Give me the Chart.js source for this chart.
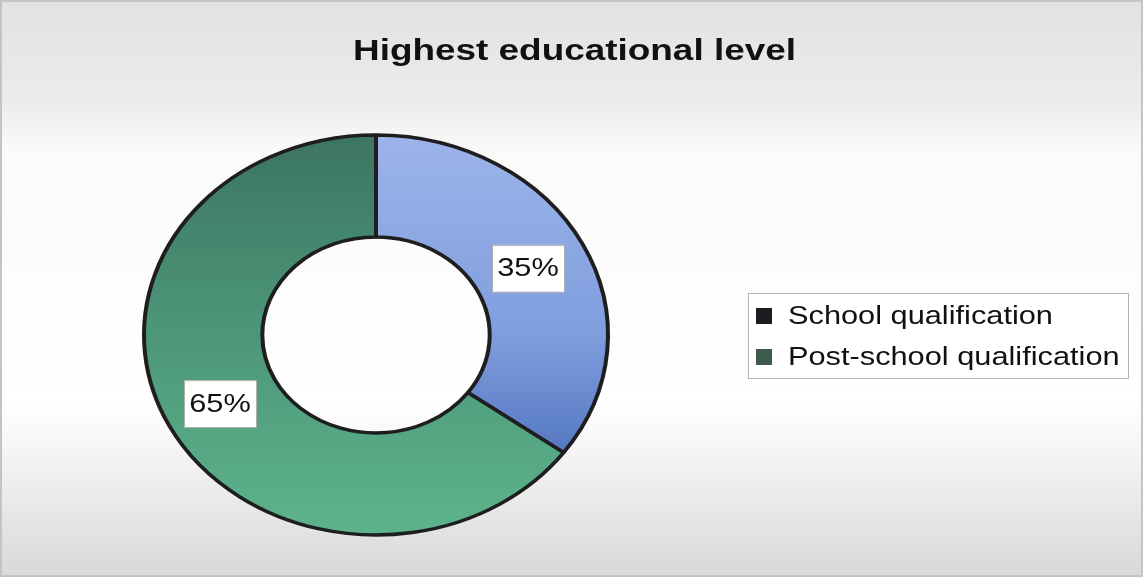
<!DOCTYPE html>
<html lang="en">
<head>
    <meta charset="UTF-8">
    <title>Highest educational level</title>
    <style>
        html, body {
            margin: 0;
            padding: 0;
            background: #ffffff;
        }
        #wrap {
            width: 1143px;
            height: 577px;
        }
    </style>
    <script src="https://cdn.jsdelivr.net/npm/chart.js"></script>
</head>
<body>
    <div id="wrap"><canvas id="eduChart" width="1143" height="577"></canvas></div>

    <script>
        const chartTitle = 'Highest educational level';
        const categories = ['School qualification', 'Post-school qualification'];
        const shares = [35, 65];
        const legendMarks = ['#1c1c22', '#3e5a4c'];

        const squash = 0.862;   // the original ring is an ellipse
        const stretch = 1.23;   // the original text is a bit wide
        const fontFam = 'Arial, "Liberation Sans", sans-serif';

        function wideText(c, txt, x, y, align) {
            const w = c.measureText(txt).width * stretch;
            let x0 = x;
            if (align === 'center') x0 = x - w / 2;
            c.save();
            c.translate(x0, y);
            c.scale(stretch, 1);
            c.textAlign = 'left';
            c.fillText(txt, 0, 0);
            c.restore();
        }

        function sliceFill(ctx) {
            const chart = ctx.chart;
            const area = chart.chartArea;
            if (!area) return '#888';
            const g = chart.ctx.createLinearGradient(0, area.top, 0, area.bottom);
            if (ctx.dataIndex === 0) {
                g.addColorStop(0, '#9cb4ea');
                g.addColorStop(0.5, '#7f9ede');
                g.addColorStop(0.85, '#4d70bc');
                g.addColorStop(1, '#4466b4');
            } else {
                g.addColorStop(0, '#3c7461');
                g.addColorStop(0.45, '#4b9477');
                g.addColorStop(1, '#5db48c');
            }
            return g;
        }

        const backdrop = {
            id: 'backdrop',
            beforeDraw(chart) {
                const c = chart.ctx;
                const w = chart.width, h = chart.height;
                c.save();
                const g = c.createLinearGradient(0, 0, 0, h);
                g.addColorStop(0, '#e2e2e2');
                g.addColorStop(0.18, '#ececec');
                g.addColorStop(0.26, '#fafafa');
                g.addColorStop(0.7, '#ffffff');
                g.addColorStop(0.85, '#ececec');
                g.addColorStop(1, '#d8d8d8');
                c.fillStyle = g;
                c.fillRect(0, 0, w, h);
                c.strokeStyle = '#c4c4c4';
                c.lineWidth = 2;
                c.strokeRect(1, 1, w - 2, h - 2);
                c.fillStyle = '#111111';
                c.font = 'bold 30px ' + fontFam;
                c.textBaseline = 'alphabetic';
                wideText(c, chartTitle, w / 2 + 3, 60, 'center');
                c.restore();
            }
        };

        const squashRing = {
            id: 'squashRing',
            beforeDatasetsDraw(chart) {
                const a = chart.chartArea;
                const cy = (a.top + a.bottom) / 2;
                chart.ctx.save();
                chart.ctx.translate(0, cy);
                chart.ctx.scale(1, squash);
                chart.ctx.translate(0, -cy);
            },
            afterDatasetsDraw(chart) {
                chart.ctx.restore();
                const c = chart.ctx;
                const a = chart.chartArea;
                const cy = (a.top + a.bottom) / 2;
                const meta = chart.getDatasetMeta(0);
                c.save();
                c.font = '25px ' + fontFam;
                c.textBaseline = 'middle';
                meta.data.forEach((arc, i) => {
                    const p = arc.tooltipPosition();
                    const x = p.x - 2;
                    const y = cy + (p.y - cy) * squash + 1;
                    const txt = shares[i] + '%';
                    const bw = 72, bh = 47;
                    c.fillStyle = '#ffffff';
                    c.fillRect(x - bw / 2, y - bh / 2, bw, bh);
                    c.strokeStyle = '#b0b0b0';
                    c.lineWidth = 1;
                    c.strokeRect(x - bw / 2 + 0.5, y - bh / 2 + 0.5, bw, bh);
                    c.fillStyle = '#111111';
                    wideText(c, txt, x, y + 1, 'center');
                });
                c.restore();
            }
        };

        const boxLegend = {
            id: 'boxLegend',
            afterDraw(chart) {
                const c = chart.ctx;
                const left = 748, top = 293, w = 380, h = 85;
                c.save();
                c.fillStyle = '#ffffff';
                c.fillRect(left, top, w, h);
                c.strokeStyle = '#b4b4b4';
                c.lineWidth = 1;
                c.strokeRect(left + 0.5, top + 0.5, w, h);
                c.font = '25px ' + fontFam;
                c.textBaseline = 'middle';
                chart.data.labels.forEach((lab, i) => {
                    const y = top + 23 + i * 41;
                    c.fillStyle = legendMarks[i];
                    c.fillRect(756, y - 8, 16, 16);
                    c.fillStyle = '#111111';
                    wideText(c, lab, 788, y + 1, 'left');
                });
                c.restore();
            }
        };

        new Chart(document.getElementById('eduChart'), {
            type: 'doughnut',
            data: {
                labels: categories,
                datasets: [{
                    data: shares,
                    backgroundColor: sliceFill,
                    borderColor: '#1e1e1e',
                    borderWidth: 4,
                    borderAlign: 'center'
                }]
            },
            options: {
                responsive: false,
                animation: false,
                cutout: '49%',
                layout: {
                    padding: { left: 0, right: 391, top: 101, bottom: 8 }
                },
                plugins: {
                    title: { display: false },
                    legend: { display: false },
                    tooltip: { enabled: false }
                },
                events: []
            },
            plugins: [backdrop, squashRing, boxLegend]
        });
    </script>
</body>
</html>
